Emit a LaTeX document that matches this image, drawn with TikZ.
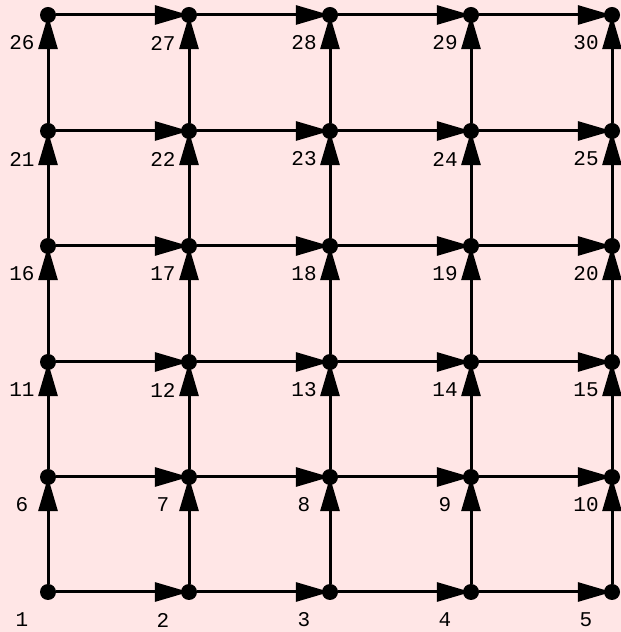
\documentclass[tikz,border=0pt]{standalone}
\usepackage{fontspec}
\setmonofont{Liberation Mono}
\usepackage{xcolor}
\usetikzlibrary{arrows.meta}
\definecolor{bgpink}{RGB}{255,230,230}
\tikzset{
  gv/.style={circle, fill, inner sep=0pt, minimum size=16pt},
  tag/.style={font=\ttfamily\fontsize{21}{21}\selectfont, xshift=-26pt, yshift=-28pt},
  arc/.style={line width=3pt, shorten >=-8pt, -{Triangle[length=34pt,width=19pt]}},
  every picture/.style={line cap=round, line join=round}
}
\begin{document}
\begin{tikzpicture}[x=1pt,y=1pt]
  \fill[bgpink] (0,0) rectangle (621,632);
  \useasboundingbox (0,0) rectangle (621,632);

  \node[gv] (n1) at (48,40) {};
  \node[gv] (n2) at (189,40) {};
  \node[gv] (n3) at (330,40) {};
  \node[gv] (n4) at (471,40) {};
  \node[gv] (n5) at (612,40) {};
  \node[gv] (n6) at (48,155) {};
  \node[gv] (n7) at (189,155) {};
  \node[gv] (n8) at (330,155) {};
  \node[gv] (n9) at (471,155) {};
  \node[gv] (n10) at (612,155) {};
  \node[gv] (n11) at (48,270) {};
  \node[gv] (n12) at (189,270) {};
  \node[gv] (n13) at (330,270) {};
  \node[gv] (n14) at (471,270) {};
  \node[gv] (n15) at (612,270) {};
  \node[gv] (n16) at (48,386) {};
  \node[gv] (n17) at (189,386) {};
  \node[gv] (n18) at (330,386) {};
  \node[gv] (n19) at (471,386) {};
  \node[gv] (n20) at (612,386) {};
  \node[gv] (n21) at (48,501) {};
  \node[gv] (n22) at (189,501) {};
  \node[gv] (n23) at (330,501) {};
  \node[gv] (n24) at (471,501) {};
  \node[gv] (n25) at (612,501) {};
  \node[gv] (n26) at (48,617) {};
  \node[gv] (n27) at (189,617) {};
  \node[gv] (n28) at (330,617) {};
  \node[gv] (n29) at (471,617) {};
  \node[gv] (n30) at (612,617) {};

  \node[tag] (t1) at (n1) {1};
  \node[tag] (t2) at (n2) {2};
  \node[tag] (t3) at (n3) {3};
  \node[tag] (t4) at (n4) {4};
  \node[tag] (t5) at (n5) {5};
  \node[tag] (t6) at (n6) {6};
  \node[tag] (t7) at (n7) {7};
  \node[tag] (t8) at (n8) {8};
  \node[tag] (t9) at (n9) {9};
  \node[tag] (t10) at (n10) {10};
  \node[tag] (t11) at (n11) {11};
  \node[tag] (t12) at (n12) {12};
  \node[tag] (t13) at (n13) {13};
  \node[tag] (t14) at (n14) {14};
  \node[tag] (t15) at (n15) {15};
  \node[tag] (t16) at (n16) {16};
  \node[tag] (t17) at (n17) {17};
  \node[tag] (t18) at (n18) {18};
  \node[tag] (t19) at (n19) {19};
  \node[tag] (t20) at (n20) {20};
  \node[tag] (t21) at (n21) {21};
  \node[tag] (t22) at (n22) {22};
  \node[tag] (t23) at (n23) {23};
  \node[tag] (t24) at (n24) {24};
  \node[tag] (t25) at (n25) {25};
  \node[tag] (t26) at (n26) {26};
  \node[tag] (t27) at (n27) {27};
  \node[tag] (t28) at (n28) {28};
  \node[tag] (t29) at (n29) {29};
  \node[tag] (t30) at (n30) {30};

  \draw[arc] (n1) edge (n2) edge (n6);
  \draw[arc] (n2) edge (n3) edge (n7);
  \draw[arc] (n3) edge (n4) edge (n8);
  \draw[arc] (n4) edge (n5) edge (n9);
  \draw[arc] (n5) edge (n10);
  \draw[arc] (n6) edge (n7) edge (n11);
  \draw[arc] (n7) edge (n8) edge (n12);
  \draw[arc] (n8) edge (n9) edge (n13);
  \draw[arc] (n9) edge (n10) edge (n14);
  \draw[arc] (n10) edge (n15);
  \draw[arc] (n11) edge (n12) edge (n16);
  \draw[arc] (n12) edge (n13) edge (n17);
  \draw[arc] (n13) edge (n14) edge (n18);
  \draw[arc] (n14) edge (n15) edge (n19);
  \draw[arc] (n15) edge (n20);
  \draw[arc] (n16) edge (n17) edge (n21);
  \draw[arc] (n17) edge (n18) edge (n22);
  \draw[arc] (n18) edge (n19) edge (n23);
  \draw[arc] (n19) edge (n20) edge (n24);
  \draw[arc] (n20) edge (n25);
  \draw[arc] (n21) edge (n22) edge (n26);
  \draw[arc] (n22) edge (n23) edge (n27);
  \draw[arc] (n23) edge (n24) edge (n28);
  \draw[arc] (n24) edge (n25) edge (n29);
  \draw[arc] (n25) edge (n30);
  \draw[arc] (n26) edge (n27);
  \draw[arc] (n27) edge (n28);
  \draw[arc] (n28) edge (n29);
  \draw[arc] (n29) edge (n30);
\end{tikzpicture}
\end{document}
